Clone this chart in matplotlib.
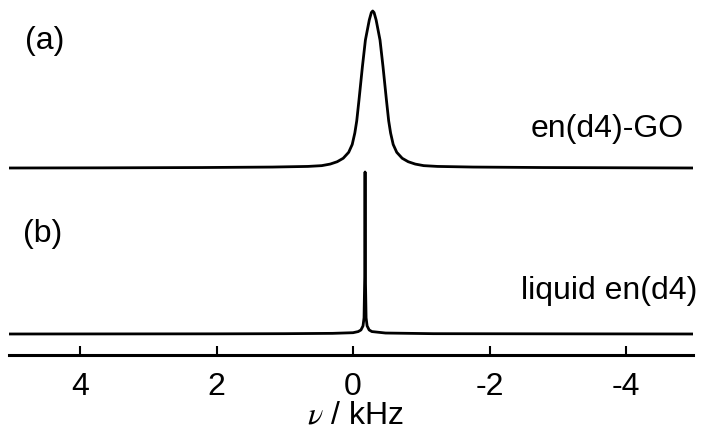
import matplotlib
matplotlib.use("Agg")
import matplotlib.pyplot as plt

plt.rcParams['font.family'] = ['Liberation Sans', 'DejaVu Sans']
plt.rcParams['mathtext.fontset'] = 'stix'

# spectre (a) : en(d4) intercalé dans GO, fréquence en kHz, intensité normalisée
freq_a = [5.05, 3.662, 2.212, 1.182, 0.662, 0.459, 0.335, 0.232, 0.144, 0.064,
          0.012, -0.026, -0.054, -0.087, -0.137, -0.181, -0.238, -0.268, -0.288,
          -0.308, -0.338, -0.395, -0.439, -0.489, -0.522, -0.550, -0.588, -0.640,
          -0.720, -0.808, -0.911, -1.035, -1.238, -1.758, -2.788, -4.238, -5.0]
int_a = [0.0, 0.001, 0.003, 0.006, 0.010, 0.015, 0.025, 0.040, 0.062, 0.10,
         0.15, 0.223, 0.30, 0.433, 0.645, 0.815, 0.943, 0.99, 1.0,
         0.99, 0.943, 0.815, 0.645, 0.433, 0.30, 0.223, 0.15, 0.10,
         0.062, 0.040, 0.025, 0.015, 0.010, 0.006, 0.003, 0.001, 0.0]

# spectre (b) : en(d4) liquide
freq_b = [5.05, 2.0, 1.0, 0.3, 0.0, -0.076, -0.116, -0.146, -0.161, -0.171, -0.176,
          -0.181, -0.191, -0.206, -0.236, -0.276, -0.476, -1.176, -3.0, -5.0]
int_b = [0.0, 0.001, 0.002, 0.004, 0.008, 0.015, 0.025, 0.05, 0.1, 0.35, 1.0,
         0.35, 0.1, 0.05, 0.025, 0.015, 0.006, 0.002, 0.001, 0.0]

labels = ["en(d4)-GO", "liquid en(d4)"]
panels = ["(a)", "(b)"]
xticks = [4, 2, 0, -2, -4]

fs = 23

fig = plt.figure(figsize=(7.01, 4.30), dpi=100)
ax = fig.add_axes([9/701, 75/430, 684/701, 355/430])

# décalage vertical et échelle de chaque spectre (unités de l'axe y)
base_a, scale_a = 187, 157
base_b, scale_b = 21, 162
ax.plot(freq_a, [base_a + scale_a*v for v in int_a], color='black', lw=2.0,
        solid_joinstyle='round')
ax.plot(freq_b, [base_b + scale_b*v for v in int_b], color='black', lw=2.0,
        solid_joinstyle='round')

ax.set_xlim(5.04, -4.98)
ax.set_ylim(0, 355)

ax.text(4.81, 306, panels[0], fontsize=fs, ha='left', va='baseline')
ax.text(4.83, 113, panels[1], fontsize=fs, ha='left', va='baseline')
ax.text(-4.84, 218, labels[0], fontsize=fs, ha='right', va='baseline')
ax.text(-5.05, 56, labels[1], fontsize=fs, ha='right', va='baseline', clip_on=False)

for side in ['top', 'left', 'right']:
    ax.spines[side].set_visible(False)
ax.spines['bottom'].set_linewidth(2.2)
ax.set_yticks([])
ax.set_xticks(xticks)
ax.set_xticklabels([str(t) for t in xticks])
ax.tick_params(axis='x', direction='in', length=6.5, width=1.5, pad=12, labelsize=fs)
ax.set_xlabel(r'$\nu$ / kHz', fontsize=fs, va='baseline')
ax.xaxis.set_label_coords(0.507, -0.194)

fig.savefig("out.png", dpi=100)
